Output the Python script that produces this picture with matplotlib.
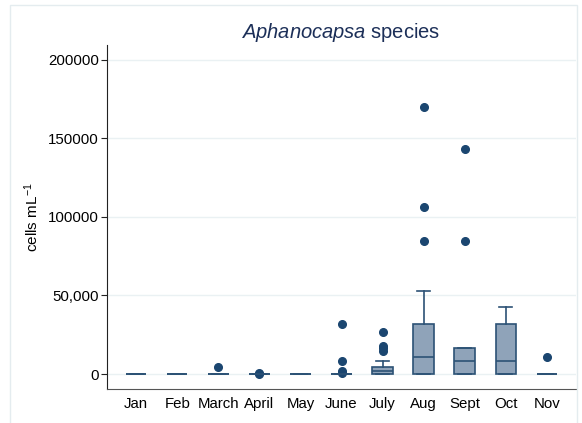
import matplotlib
matplotlib.use("Agg")
import matplotlib.pyplot as plt
from matplotlib.patches import Rectangle

plt.rcParams['font.family'] = ['Liberation Sans', 'DejaVu Sans']
plt.rcParams['mathtext.fontset'] = 'custom'
plt.rcParams['mathtext.rm'] = 'Liberation Sans'
plt.rcParams['mathtext.it'] = 'Liberation Sans:italic'

months = ["Jan", "Feb", "March", "April", "May", "June", "July", "Aug", "Sept", "Oct", "Nov"]
q1 = [0, 0, 0, 0, 0, 0, 0, 0, 0, 0, 0]
med = [0, 0, 0, 0, 0, 0, 2100, 10600, 8100, 8100, 0]
q3 = [0, 0, 0, 0, 0, 0, 4700, 31800, 16800, 31600, 0]
whislo = [0, 0, 0, 0, 0, 0, 0, 0, 0, 0, 0]
whishi = [0, 0, 0, 0, 0, 0, 8500, 53000, 16800, 42500, 0]
fliers = [
    [],
    [],
    [4300],
    [600, 200],
    [],
    [31800, 8500, 2100, 400],
    [26500, 18000, 16300, 14600],
    [170300, 106400, 84900],
    [143500, 84900],
    [],
    [10600],
]
yticks = [0, 50000, 100000, 150000, 200000]
yticklabels = ["0", "50,000", "100000", "150000", "200000"]

box_fill = "#8fa3b9"
box_edge = "#2c5275"
dot = "#1b4670"

fig = plt.figure(figsize=(5.82, 4.23), dpi=100)
fig.patches.append(Rectangle((10/582, -0.1), (577-10)/582, 1.1 - 5/423,
                             transform=fig.transFigure, fill=False,
                             edgecolor="#e4ecef", linewidth=1.0))
ax = fig.add_axes([107/582, 1 - 389/423, (576-107)/582, (389-45)/423])

stats = []
for i in range(len(months)):
    stats.append(dict(label=months[i], q1=q1[i], med=med[i], q3=q3[i],
                      whislo=whislo[i], whishi=whishi[i], fliers=fliers[i]))

ax.bxp(stats, positions=list(range(1, len(months) + 1)), widths=0.5,
       capwidths=0.32, patch_artist=True,
       boxprops=dict(facecolor=box_fill, edgecolor=box_edge, linewidth=1.2),
       medianprops=dict(color=box_edge, linewidth=1.2),
       whiskerprops=dict(color=box_edge, linewidth=1.2),
       capprops=dict(color=box_edge, linewidth=1.2),
       flierprops=dict(marker='o', markerfacecolor=dot, markeredgecolor=dot,
                       markersize=5.5, linestyle='none'))

ax.set_xlim(0.29, 11.71)
ax.set_ylim(-9550, 209500)
ax.set_yticks(yticks)
ax.set_yticklabels(yticklabels)
ax.set_xticks(list(range(1, len(months) + 1)))
ax.set_xticklabels(months)
ax.yaxis.grid(True, color="#eaf1f3", linewidth=1.0)
ax.set_axisbelow(True)
for s in ["top", "right"]:
    ax.spines[s].set_visible(False)
ax.spines["left"].set_color("#222222")
ax.spines["bottom"].set_color("#555555")
ax.tick_params(axis='y', length=4.5, width=0.8, pad=1.5, labelsize=10.8, color="#222222")
ax.tick_params(axis='x', length=0, pad=5.5, labelsize=10.8)
ax.set_ylabel(r"cells mL$^{-1}$", fontsize=11)
ax.yaxis.set_label_coords((41 - 107) / 469, 0.5)

fig.text(341/582, 1 - 32/423, r"$\it{Aphanocapsa}$ species", ha="center", va="center",
         fontsize=14.5, color="#1c2f58")

fig.savefig("out.png", dpi=100)
